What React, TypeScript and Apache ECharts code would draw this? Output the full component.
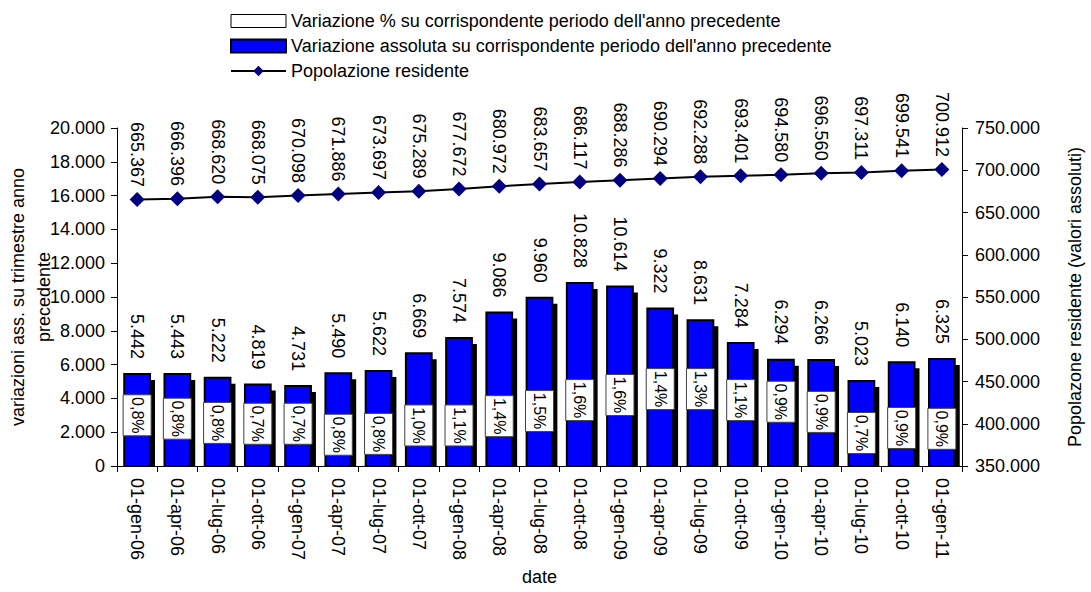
import React, { useEffect, useRef } from "react";
import * as echarts from "echarts";

const categories = [
  "01-gen-06", "01-apr-06", "01-lug-06", "01-ott-06", "01-gen-07", "01-apr-07", "01-lug-07",
  "01-ott-07", "01-gen-08", "01-apr-08", "01-lug-08", "01-ott-08", "01-gen-09", "01-apr-09",
  "01-lug-09", "01-ott-09", "01-gen-10", "01-apr-10", "01-lug-10", "01-ott-10", "01-gen-11",
];
const absChange = [
  5442, 5443, 5222, 4819, 4731, 5490, 5622, 6669, 7574, 9086, 9960, 10828, 10614, 9322, 8631,
  7284, 6294, 6266, 5023, 6140, 6325,
];
const pctChange = [
  0.8, 0.8, 0.8, 0.7, 0.7, 0.8, 0.8, 1.0, 1.1, 1.4, 1.5, 1.6, 1.6, 1.4, 1.3, 1.1, 0.9, 0.9, 0.7,
  0.9, 0.9,
];
// vertical position (left-axis units) of the % data labels, as placed in the original
const pctLabelPos = [
  3000, 2800, 2550, 2500, 2500, 1850, 1900, 2400, 2400, 2950, 3250, 3900, 4200, 4550, 4550, 3900,
  3800, 3200, 1950, 2250, 2200,
];
const population = [
  665367, 666396, 668620, 668075, 670098, 671886, 673697, 675289, 677672, 680972, 683657, 686117,
  688286, 690294, 692288, 693401, 694580, 696560, 697311, 699541, 700912,
];

const SERIES_PCT = "Variazione % su corrispondente periodo dell'anno precedente";
const SERIES_ABS = "Variazione assoluta su corrispondente periodo dell'anno precedente";
const SERIES_POP = "Popolazione residente";

const FONT_FAMILY = "'Liberation Sans', Arial, sans-serif";
const FS = 18;

const fmtInt = (n: number) =>
  String(Math.round(n)).replace(/\B(?=(\d{3})+(?!\d))/g, ".");
const fmtPct = (v: number) => v.toFixed(1).replace(".", ",") + "%";

export default function App() {
  const ref = useRef<HTMLDivElement>(null);

  useEffect(() => {
    if (!ref.current) return;
    const chart = echarts.init(ref.current, null, { renderer: "svg" });

    const barData = absChange.map((v, i) => [i, v]);
    const pctData = pctChange.map((v, i) => [i, pctLabelPos[i], v]);

    const option: any = {
      animation: false,
      backgroundColor: "#fff",
      textStyle: { fontFamily: FONT_FAMILY, color: "#000" },
      legend: {
        orient: "vertical",
        left: 230,
        top: 12,
        padding: 0,
        itemWidth: 55,
        itemHeight: 13,
        itemGap: 7,
        textStyle: { fontSize: FS, color: "#000", fontFamily: FONT_FAMILY },
        data: [
          {
            name: SERIES_PCT,
            icon: "rect",
            itemStyle: { color: "#fff", borderColor: "#000", borderWidth: 1 },
          },
          {
            name: SERIES_ABS,
            icon: "rect",
            itemStyle: { color: "#0000FF", borderColor: "#000", borderWidth: 2 },
          },
          { name: SERIES_POP },
        ],
      },
      grid: {
        left: 117,
        right: 129,
        top: 128,
        bottom: 126,
        containLabel: false,
        outerBoundsMode: "none",
      },
      xAxis: {
        type: "category",
        data: categories,
        boundaryGap: true,
        name: "date",
        nameLocation: "middle",
        nameGap: 102,
        nameMoveOverlap: false,
        nameTextStyle: { fontSize: FS, color: "#000", fontFamily: FONT_FAMILY },
        axisLine: { lineStyle: { color: "#000", width: 1 } },
        axisTick: { show: true, length: 6, lineStyle: { color: "#000" } },
        axisLabel: {
          rotate: -90,
          margin: 12,
          fontSize: FS,
          color: "#000",
          fontFamily: FONT_FAMILY,
          interval: 0,
        },
        splitLine: { show: false },
      },
      yAxis: [
        {
          type: "value",
          min: 0,
          max: 20000,
          interval: 2000,
          name: "variazioni ass. su trimestre anno\nprecedente",
          nameLocation: "middle",
          nameRotate: 90,
          nameGap: 60,
          nameMoveOverlap: false,
          nameTextStyle: { fontSize: FS, color: "#000", fontFamily: FONT_FAMILY, lineHeight: 26 },
          axisLine: { show: true, lineStyle: { color: "#000", width: 1 } },
          axisTick: { show: true, length: 6, lineStyle: { color: "#000" } },
          axisLabel: {
            fontSize: FS,
            color: "#000",
            fontFamily: FONT_FAMILY,
            margin: 12,
            formatter: (v: number) => fmtInt(v),
          },
          splitLine: { show: false },
        },
        {
          type: "value",
          min: 350000,
          max: 750000,
          interval: 50000,
          position: "right",
          name: "Popolazone residente (valori assoluti)",
          nameLocation: "middle",
          nameRotate: 90,
          nameGap: 104,
          nameTextStyle: { fontSize: FS, color: "#000", fontFamily: FONT_FAMILY },
          axisLine: { show: true, lineStyle: { color: "#000", width: 1 } },
          axisTick: { show: true, length: 6, lineStyle: { color: "#000" } },
          axisLabel: {
            fontSize: FS,
            color: "#000",
            fontFamily: FONT_FAMILY,
            margin: 13,
            formatter: (v: number) => fmtInt(v),
          },
          splitLine: { show: false },
        },
      ],
      series: [
        {
          name: SERIES_ABS,
          type: "custom",
          yAxisIndex: 0,
          z: 2,
          itemStyle: { color: "#0000FF", borderColor: "#000", borderWidth: 2 },
          encode: { x: 0, y: 1 },
          data: barData,
          renderItem: (params: any, api: any) => {
            const i = api.value(0);
            const v = api.value(1);
            const top = api.coord([i, v]);
            const base = api.coord([i, 0]);
            const band = api.size([1, 0])[0];
            const w = band * 0.64;
            const x = top[0] - w / 2;
            const h = base[1] - top[1];
            return {
              type: "group",
              children: [
                {
                  type: "rect",
                  shape: { x: x + 5, y: top[1] + 6, width: w, height: h - 6 },
                  style: { fill: "#000" },
                },
                {
                  type: "rect",
                  shape: { x, y: top[1], width: w, height: h },
                  style: { fill: "#0000FF", stroke: "#000", lineWidth: 2 },
                },
                {
                  type: "text",
                  x: top[0],
                  y: top[1] - 15,
                  rotation: -Math.PI / 2,
                  style: {
                    text: fmtInt(v),
                    align: "right",
                    verticalAlign: "middle",
                    fontSize: FS,
                    fontFamily: FONT_FAMILY,
                    fill: "#000",
                  },
                },
              ],
            };
          },
        },
        {
          name: SERIES_PCT,
          type: "custom",
          yAxisIndex: 0,
          z: 3,
          itemStyle: { color: "#fff", borderColor: "#000", borderWidth: 1 },
          encode: { x: 0, y: 1 },
          data: pctData,
          renderItem: (params: any, api: any) => {
            const i = api.value(0);
            const pos = api.value(1);
            const pct = api.value(2);
            const p = api.coord([i, pos]);
            const bw = 28;
            const bh = 41;
            return {
              type: "group",
              children: [
                {
                  type: "rect",
                  shape: { x: p[0] - bw / 2, y: p[1] - bh / 2, width: bw, height: bh },
                  style: { fill: "#fff", stroke: "#444", lineWidth: 1 },
                },
                {
                  type: "text",
                  x: p[0],
                  y: p[1],
                  rotation: -Math.PI / 2,
                  style: {
                    text: fmtPct(pct),
                    align: "center",
                    verticalAlign: "middle",
                    fontSize: 16,
                    fontFamily: FONT_FAMILY,
                    fill: "#000",
                  },
                },
              ],
            };
          },
        },
        {
          name: SERIES_POP,
          type: "line",
          yAxisIndex: 1,
          z: 4,
          data: population,
          symbol: "diamond",
          symbolSize: 15,
          itemStyle: { color: "#000080" },
          lineStyle: { color: "#000", width: 2 },
          label: {
            show: true,
            position: "top",
            distance: 5,
            rotate: -90,
            align: "right",
            verticalAlign: "middle",
            fontSize: FS,
            fontFamily: FONT_FAMILY,
            color: "#000",
            formatter: (p: any) => fmtInt(p.value),
          },
        },
      ],
    };

    chart.setOption(option);
    return () => chart.dispose();
  }, []);

  return (
    <div
      ref={ref}
      style={{ position: "fixed", left: 0, top: 0, width: 1091, height: 592, background: "#fff" }}
    />
  );
}
